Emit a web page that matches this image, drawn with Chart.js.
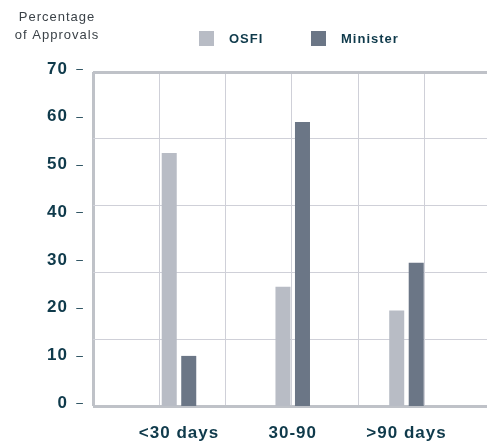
<!DOCTYPE html>
<html>
<head>
<meta charset="utf-8">
<script src="https://cdn.jsdelivr.net/npm/chart.js@4"></script>
<style>
  html, body { margin: 0; padding: 0; background: #fff; }
  #wrap { width: 487px; height: 443px; position: relative; }
</style>
</head>
<body>
<div id="wrap"><canvas id="chart"></canvas></div>
<script>
/* ===== Data ===== */
const categories = ['<30 days', '30-90', '>90 days'];
const osfiValues = [53, 25, 20];
const ministerValues = [10.5, 59.5, 30];
const yTicks = [0, 10, 20, 30, 40, 50, 60, 70];
const axisTitle = ['Percentage', 'of Approvals'];

const TEXT = '#0f3a4b';
const GRID = '#cfd0d8';
const FRAME = '#bfc2c8';

// Print-style tracking on every label the chart draws or measures
const spacingPlugin = {
  id: 'spacing',
  beforeLayout(chart) { chart.ctx.letterSpacing = '1px'; },
  beforeDraw(chart) { chart.ctx.letterSpacing = '1px'; }
};

// Title + legend drawn with letter spacing, same as the print layout
const headerPlugin = {
  id: 'header',
  afterDraw(chart) {
    const ctx = chart.ctx;
    ctx.save();
    ctx.fillStyle = '#3b4248';
    ctx.font = '13px "Liberation Sans", Arial, sans-serif';
    ctx.letterSpacing = '1px';
    ctx.textAlign = 'center';
    ctx.textBaseline = 'middle';
    axisTitle.forEach((line, i) => ctx.fillText(line, 57, 17 + i * 18));

    // legend items
    const items = chart.data.datasets;
    const starts = [199, 311];
    ctx.font = 'bold 13px "Liberation Sans", Arial, sans-serif';
    ctx.textAlign = 'left';
    items.forEach((ds, i) => {
      ctx.fillStyle = ds.backgroundColor;
      ctx.fillRect(starts[i], 31, 15, 15);
      ctx.fillStyle = TEXT;
      ctx.fillText(ds.label, starts[i] + 30, 39.5);
    });
    ctx.restore();
  }
};

const ctx = document.getElementById('chart').getContext('2d');
new Chart(ctx, {
  type: 'bar',
  data: {
    datasets: [
      {
        label: 'OSFI',
        data: osfiValues.map((v, i) => ({ x: i, y: v })),
        backgroundColor: '#b8bcc5',
        xAxisID: 'x', yAxisID: 'y'
      },
      {
        label: 'Minister',
        data: ministerValues.map((v, i) => ({ x: i, y: v })),
        backgroundColor: '#6b7686',
        xAxisID: 'x', yAxisID: 'y'
      }
    ]
  },
  options: {
    responsive: true,
    maintainAspectRatio: false,
    animation: false,
    categoryPercentage: 0.343,
    barPercentage: 0.77,
    layout: { padding: { top: 72, right: 0, bottom: 0, left: 0 } },
    plugins: {
      legend: { display: false },
      title: { display: false },
      tooltip: { enabled: false }
    },
    scales: {
      x: {
        type: 'linear',
        position: 'bottom',
        offset: false,
        min: -0.756,
        max: 2.708,
        afterBuildTicks: axis => { axis.ticks = categories.map((c, i) => ({ value: i })); },
        afterFit: axis => { axis.height = 37; },
        grid: { display: false, drawTicks: false, offset: false },
        border: { display: false },
        ticks: {
          color: TEXT,
          font: { family: '"Liberation Sans", Arial, sans-serif', size: 17, weight: 'bold' },
          padding: 17,
          maxRotation: 0,
          autoSkip: false,
          callback: v => categories[v]
        }
      },
      y: {
        type: 'linear',
        position: 'left',
        weight: 1,
        min: 0,
        max: 70,
        afterBuildTicks: axis => { axis.ticks = yTicks.map(v => ({ value: v })); },
        afterFit: axis => { axis.width = 76; },
        grid: { display: false, drawTicks: false },
        border: { display: false },
        ticks: {
          color: TEXT,
          font: { family: '"Liberation Sans", Arial, sans-serif', size: 17, weight: 'bold' },
          padding: 8,
          labelOffset: -3
        }
      },
      // the small dash beside each value
      yd: {
        type: 'linear',
        position: 'left',
        weight: 0,
        min: 0,
        max: 70,
        afterBuildTicks: axis => { axis.ticks = yTicks.map(v => ({ value: v })); },
        afterFit: axis => { axis.width = 17; },
        grid: { display: false, drawTicks: false },
        border: { display: false },
        ticks: {
          color: TEXT,
          font: { family: '"Liberation Sans", Arial, sans-serif', size: 12 },
          padding: 9,
          labelOffset: -2,
          callback: () => '–'
        }
      },
      // background grid: 6 columns x 5 rows, independent of the value ticks
      gx: {
        type: 'linear',
        position: 'top',
        offset: false,
        min: 0,
        max: 5.94,
        afterBuildTicks: axis => { axis.ticks = [0, 1, 2, 3, 4, 5].map(v => ({ value: v })); },
        afterFit: axis => { axis.height = 0; },
        grid: {
          offset: false,
          drawTicks: false,
          color: ctx => ctx.tick && ctx.tick.value === 0 ? FRAME : GRID,
          lineWidth: ctx => ctx.tick && ctx.tick.value === 0 ? 3 : 1
        },
        border: { display: false },
        ticks: { display: false }
      },
      gy: {
        type: 'linear',
        position: 'right',
        min: 0,
        max: 5,
        afterBuildTicks: axis => { axis.ticks = [0, 1, 2, 3, 4, 5].map(v => ({ value: v })); },
        afterFit: axis => { axis.width = 0; },
        grid: {
          drawTicks: false,
          color: ctx => ctx.tick && (ctx.tick.value === 0 || ctx.tick.value === 5) ? FRAME : GRID,
          lineWidth: ctx => ctx.tick && (ctx.tick.value === 0 || ctx.tick.value === 5) ? 3 : 1
        },
        border: { display: false },
        ticks: { display: false }
      }
    }
  },
  plugins: [spacingPlugin, headerPlugin]
});
</script>
</body>
</html>
